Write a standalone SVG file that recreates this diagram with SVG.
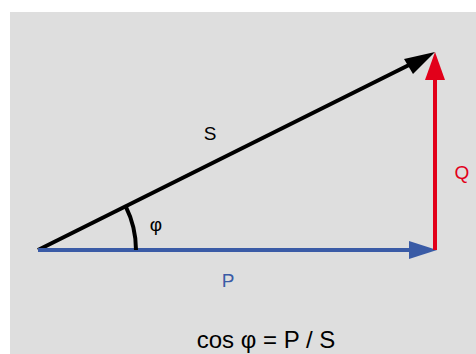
<svg xmlns="http://www.w3.org/2000/svg" width="476" height="354" viewBox="0 0 476 354">
<style>
.lbl{font-family:"Liberation Sans",Arial,sans-serif;font-size:19px}
.f{font-size:24px}
</style>
<rect width="476" height="354" fill="#ffffff"/>
<rect x="10" y="12" width="466" height="342" fill="#dedede"/>
<g id="connectors" stroke-linecap="butt" fill="none">
<g id="S">
<line x1="38" y1="250" x2="414" y2="62.5" stroke="#000" stroke-width="4"/>
<polygon points="435,52 404,59 413,74" fill="#000"/>
</g>
<g id="P">
<line x1="38" y1="250" x2="412" y2="250" stroke="#3a5ba6" stroke-width="4"/>
<polygon points="437,250 409,241 409,259" fill="#3a5ba6"/>
</g>
<g id="Q">
<line x1="435" y1="250" x2="435" y2="76" stroke="#e2001a" stroke-width="4"/>
<polygon points="435,52 425,80 445,80" fill="#e2001a"/>
</g>
<path id="arc" d="M136,250 A98,98 0 0 0 125.7,206.3" stroke="#000" stroke-width="4"/>
</g>
<text class="lbl" x="210" y="140" text-anchor="middle" fill="#000">S</text>
<text class="lbl" x="156" y="231" text-anchor="middle" fill="#000">φ</text>
<text class="lbl" x="228" y="287" text-anchor="middle" fill="#3a5ba6">P</text>
<text class="lbl" x="462" y="179" text-anchor="middle" fill="#e2001a">Q</text>
<text class="lbl f" x="266" y="348" text-anchor="middle" fill="#000">cos φ = P / S</text>
</svg>
